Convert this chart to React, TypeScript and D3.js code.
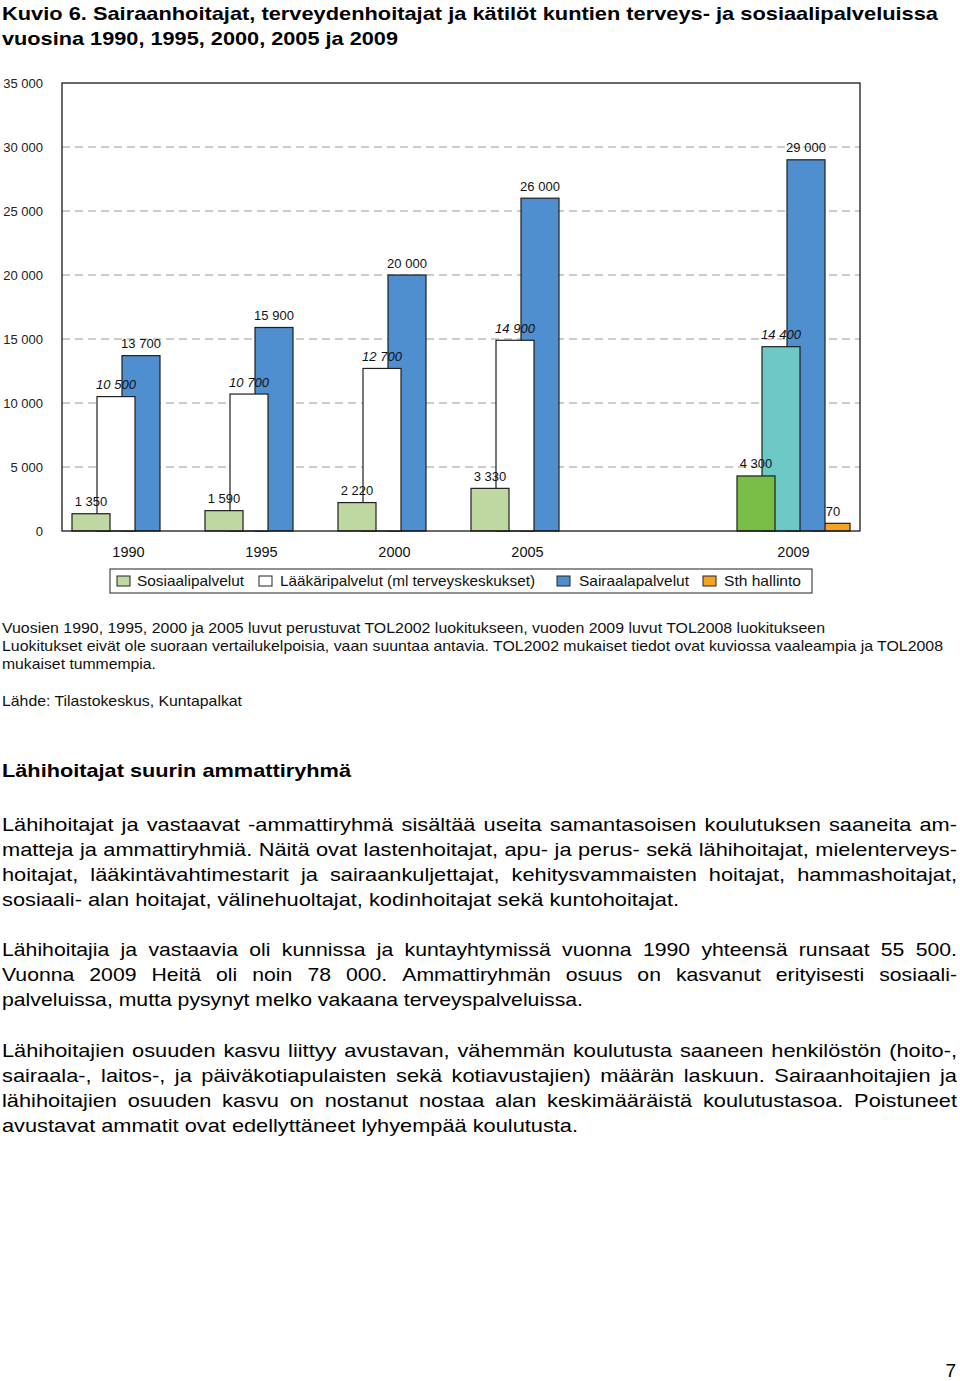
import React, { useEffect, useRef } from "react";
import * as d3 from "d3";

const categories = ["1990", "1995", "2000", "2005", "", "2009"];
const sosiaali = [1350, 1590, 2220, 3330, null, 4300];
const laakari = [10500, 10700, 12700, 14900, null, 14400];
const sairaala = [13700, 15900, 20000, 26000, null, 29000];
const sthHallinto = [null, null, null, null, null, 600];
const sthLabels = ["", "", "", "", "", "70"];
const yTicks = [0, 5000, 10000, 15000, 20000, 25000, 30000, 35000];
const seriesNames = ["Sosiaalipalvelut", "Lääkäripalvelut (ml terveyskeskukset)", "Sairaalapalvelut", "Sth hallinto"];
const colorsTOL2002 = ["#bfd7a0", "#ffffff", "#4f8ecf", "#f6a323"];
const colorsTOL2008 = ["#78bd45", "#6cc9c6", "#4f8ecf", "#f6a323"];

const titleLines = [
  "Kuvio 6. Sairaanhoitajat, terveydenhoitajat ja kätilöt kuntien terveys- ja sosiaalipalveluissa",
  "vuosina 1990, 1995, 2000, 2005 ja 2009",
];
const noteLines = [
  "Vuosien 1990, 1995, 2000 ja 2005 luvut perustuvat TOL2002 luokitukseen, vuoden 2009 luvut TOL2008 luokitukseen",
  "Luokitukset eivät ole suoraan vertailukelpoisia, vaan suuntaa antavia. TOL2002 mukaiset tiedot ovat kuviossa vaaleampia ja TOL2008",
  "mukaiset tummempia.",
];
const sourceLine = "Lähde: Tilastokeskus, Kuntapalkat";
const heading = "Lähihoitajat suurin ammattiryhmä";
const paragraphs = [
  [
    "Lähihoitajat ja vastaavat -ammattiryhmä sisältää useita samantasoisen koulutuksen saaneita am-",
    "matteja ja ammattiryhmiä. Näitä ovat lastenhoitajat, apu- ja perus- sekä lähihoitajat, mielenterveys-",
    "hoitajat, lääkintävahtimestarit ja sairaankuljettajat, kehitysvammaisten hoitajat, hammashoitajat,",
    "sosiaali- alan hoitajat, välinehuoltajat, kodinhoitajat sekä kuntohoitajat.",
  ],
  [
    "Lähihoitajia ja vastaavia oli kunnissa ja kuntayhtymissä vuonna 1990 yhteensä runsaat 55 500.",
    "Vuonna 2009 Heitä oli noin 78 000. Ammattiryhmän osuus on kasvanut erityisesti sosiaali-",
    "palveluissa, mutta pysynyt melko vakaana terveyspalveluissa.",
  ],
  [
    "Lähihoitajien osuuden kasvu liittyy avustavan, vähemmän koulutusta saaneen henkilöstön (hoito-,",
    "sairaala-, laitos-, ja päiväkotiapulaisten sekä kotiavustajien) määrän laskuun. Sairaanhoitajien ja",
    "lähihoitajien osuuden kasvu on nostanut nostaa alan keskimääräistä koulutustasoa. Poistuneet",
    "avustavat ammatit ovat edellyttäneet lyhyempää koulutusta.",
  ],
];
const pageNumber = "7";

const FONT = "'Liberation Sans', Arial, Helvetica, sans-serif";
const fmt = (v: number) => d3.format(",")(v).replace(/,/g, " ");

export default function App() {
  const bodyRef = useRef<SVGGElement>(null);

  const W = 960, H = 1381;
  const plot = { left: 62, right: 860, top: 83, bottom: 531 };
  const x = d3.scaleBand<string>().domain(categories.map((c, i) => c + "#" + i)).range([plot.left, plot.right]).paddingInner(0).paddingOuter(0);
  const y = d3.scaleLinear().domain([0, 35000]).range([plot.bottom, plot.top]);
  const barW = 38;
  const step = 25;
  const groupSpan = step * 3 + barW;
  const series = [sosiaali, laakari, sairaala, sthHallinto];
  const keyOf = (i: number) => categories[i] + "#" + i;
  const barX = (ci: number, si: number) => (x(keyOf(ci)) as number) + (x.bandwidth() - groupSpan) / 2 + si * step;

  const bars: any[] = [];
  series.forEach((vals, si) => {
    vals.forEach((v, ci) => {
      if (v == null) return;
      const fill = categories[ci] === "2009" ? colorsTOL2008[si] : colorsTOL2002[si];
      bars.push({ si, ci, v, fill, x: barX(ci, si) });
    });
  });
  const drawOrder = [...bars].sort((a, b) => b.si - a.si);

  useEffect(() => {
    const g = d3.select(bodyRef.current);
    g.selectAll("*").remove();
    const left = 2, right = 957;
    const starts = [831, 956, 1057];
    const lastTargets = [677, 581, 576];
    paragraphs.forEach((lines, pi) => {
      // measure last line to find horizontal stretch for this paragraph
      const probe = g.append("text").attr("font-family", FONT).attr("font-size", 19).text(lines[lines.length - 1]);
      const natural = (probe.node() as SVGTextElement).getComputedTextLength();
      probe.remove();
      const sx = lastTargets[pi] / natural;
      lines.forEach((line, li) => {
        const yy = starts[pi] + li * 25;
        const t = g.append("text").attr("y", yy).attr("font-family", FONT).attr("font-size", 19).attr("fill", "#000");
        const last = li === lines.length - 1;
        if (last) {
          t.attr("x", left).attr("textLength", lastTargets[pi]).attr("lengthAdjust", "spacingAndGlyphs").text(line);
          return;
        }
        const words = line.split(" ");
        const spans = words.map((w) => t.append("tspan").text(w));
        const widths = spans.map((s) => (s.node() as SVGTSpanElement).getComputedTextLength());
        const total = d3.sum(widths);
        const avail = right - left;
        let scale = sx;
        let gap = (avail - total * scale) / (words.length - 1);
        if (gap < 3) {
          scale = (avail - 3 * (words.length - 1)) / total;
          gap = 3;
        }
        let cx = left;
        spans.forEach((s, i) => {
          s.attr("x", cx).attr("textLength", widths[i] * scale).attr("lengthAdjust", "spacingAndGlyphs");
          cx += widths[i] * scale + gap;
        });
      });
    });
  }, []);

  const legendItems = [
    { sq: 117, tx: 137, w: 107 },
    { sq: 259, tx: 280, w: 255 },
    { sq: 557, tx: 579, w: 110 },
    { sq: 703, tx: 724, w: 77 },
  ];
  const noteWidths = [823, 941, 154];

  return (
    <svg width={W} height={H} style={{ display: "block", position: "absolute", left: 0, top: 0, background: "#fff" }} fontFamily={FONT}>
      <rect x={0} y={0} width={W} height={H} fill="#fff" />
      {/* Title */}
      <text x={2} y={19.5} fontSize={19} fontWeight="bold" textLength={936} lengthAdjust="spacingAndGlyphs">{titleLines[0]}</text>
      <text x={2} y={44.5} fontSize={19} fontWeight="bold" textLength={396} lengthAdjust="spacingAndGlyphs">{titleLines[1]}</text>

      {/* gridlines */}
      {yTicks.filter((t) => t > 0 && t < 35000).map((t) => (
        <line key={"g" + t} x1={plot.left} x2={plot.right} y1={y(t)} y2={y(t)} stroke="#9a9a9a" strokeWidth={1} strokeDasharray="8,5" />
      ))}
      {/* y tick labels */}
      {yTicks.map((t) => (
        <text key={"yt" + t} x={43} y={y(t) + 4.5} fontSize={13} textAnchor="end" fill="#222">{fmt(t)}</text>
      ))}

      {/* bars */}
      {drawOrder.map((b) => (
        <rect key={"b" + b.si + "-" + b.ci} x={b.x} y={y(b.v)} width={barW} height={y(0) - y(b.v)} fill={b.fill} stroke="#1f1f1f" strokeWidth={1.2} />
      ))}

      {/* frame */}
      <rect x={plot.left} y={plot.top} width={plot.right - plot.left} height={plot.bottom - plot.top} fill="none" stroke="#1a1a1a" strokeWidth={1.3} />

      {/* data labels */}
      {bars.map((b) => (
        <text key={"l" + b.si + "-" + b.ci} x={b.x + barW / 2 + (b.si === 3 ? 2 : 0)} y={y(b.v) - 7.5} fontSize={13} textAnchor="middle" fontStyle={b.si === 1 ? "italic" : "normal"} fill="#111">
          {b.si === 3 ? sthLabels[b.ci] : fmt(b.v)}
        </text>
      ))}

      {/* x category labels */}
      {categories.map((c, i) => c ? (
        <text key={"xc" + i} x={(x(keyOf(i)) as number) + x.bandwidth() / 2} y={557} fontSize={14.5} textAnchor="middle" fill="#111">{c}</text>
      ) : null)}

      {/* legend */}
      <rect x={110} y={569} width={702} height={24} fill="#fff" stroke="#222" strokeWidth={1} />
      {seriesNames.map((n, i) => (
        <g key={"lg" + i}>
          <rect x={legendItems[i].sq} y={576} width={13} height={10} fill={i === 1 ? "#fff" : colorsTOL2002[i]} stroke="#222" strokeWidth={1} />
          <text x={legendItems[i].tx} y={586} fontSize={14.5} fill="#111" textLength={legendItems[i].w} lengthAdjust="spacingAndGlyphs">{n}</text>
        </g>
      ))}

      {/* notes */}
      {noteLines.map((l, i) => (
        <text key={"n" + i} x={2} y={633 + i * 18} fontSize={14.5} fill="#111" textLength={noteWidths[i]} lengthAdjust="spacingAndGlyphs">{l}</text>
      ))}
      <text x={2} y={706} fontSize={14.5} fill="#111" textLength={240} lengthAdjust="spacingAndGlyphs">{sourceLine}</text>

      {/* heading */}
      <text x={2} y={777} fontSize={19} fontWeight="bold" textLength={349} lengthAdjust="spacingAndGlyphs">{heading}</text>

      <g ref={bodyRef} />

      <text x={956} y={1377} fontSize={19} textAnchor="end">{pageNumber}</text>
    </svg>
  );
}
